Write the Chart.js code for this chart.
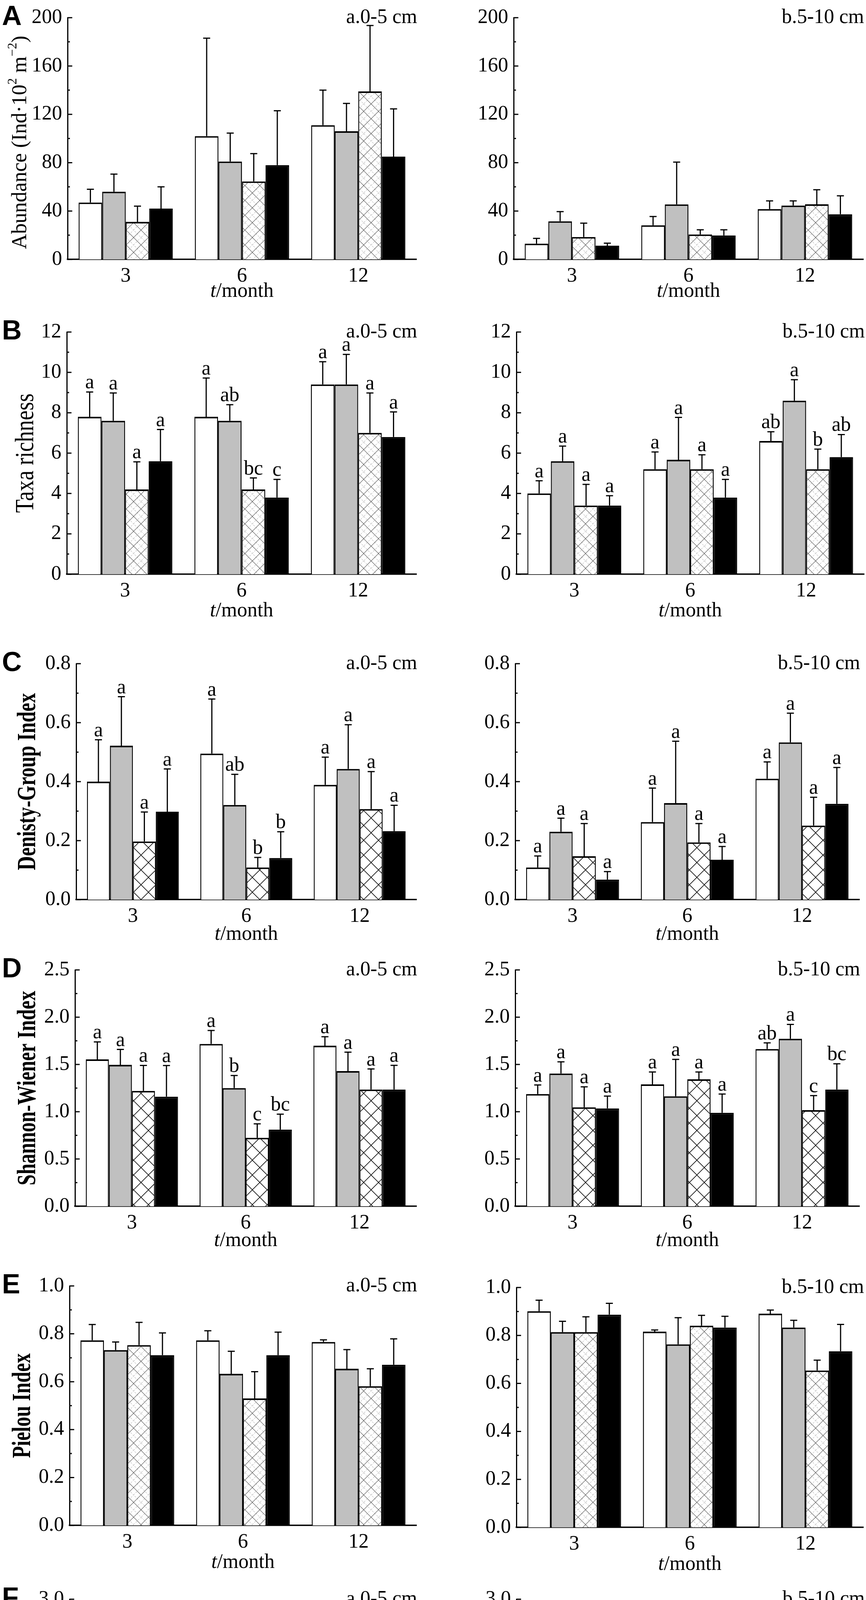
<!DOCTYPE html>
<html>
<head>
<meta charset="utf-8">
<script src="https://cdn.jsdelivr.net/npm/chart.js@4.4.1/dist/chart.umd.min.js"></script>
<style>
  body { margin: 0; background: #fff; }
  #page { position: relative; width: 2217px; height: 4930px; background: #fff; overflow: hidden; }
  #page canvas { position: absolute; }
  .legend { position: absolute; top: 4858px; left: 0; width: 2217px; height: 62px;
            font-family: 'Liberation Serif', serif; font-size: 54px; color: #000; }
  .legend .item { position: absolute; top: 0; height: 62px; display: flex; align-items: center; }
  .legend .box { width: 118px; height: 60px; border: 3px solid #000; box-sizing: border-box; margin-right: 14px; }
</style>
</head>
<body>
<div id="page">
  <div class="legend">
    <div class="item" style="left:671px"><div class="box" style="background:#fff"></div>N0</div>
    <div class="item" style="left:904px"><div class="box" style="background:#c0c0c0"></div>N1</div>
    <div class="item" style="left:1134px"><div class="box" style="border-color:#777;background-color:#fff;background-image:repeating-linear-gradient(45deg,#bbb 0 1px,transparent 1px 19px),repeating-linear-gradient(-45deg,#bbb 0 1px,transparent 1px 19px)"></div>N2</div>
    <div class="item" style="left:1367px"><div class="box" style="background:#000"></div>N3</div>
  </div>
</div>
<script>
// categories / series
const months = ['3', '6', '12'];
const treatments = ['N0', 'N1', 'N2', 'N3'];

// values are [month][treatment], errors are the upper error bar length
const abund05Mean = [[47, 56, 31, 42], [102, 81, 64.5, 78], [111, 106, 139, 85]];
const abund05Err = [[11, 14.5, 13, 18], [81, 23.5, 23, 45], [29, 23, 54.5, 39.5]];
const abund510Mean = [[13, 31.5, 18.5, 11.3], [28.2, 45.5, 20.6, 19.8], [41.6, 44.5, 45.6, 37.3]];
const abund510Err = [[4.4, 8, 11.5, 2.1], [7.3, 35, 3.9, 4.7], [6.8, 3.9, 12, 15.3]];

const rich05Mean = [[7.8, 7.6, 4.2, 5.6], [7.8, 7.6, 4.2, 3.8], [9.4, 9.4, 7.0, 6.8]];
const rich05Err = [[1.23, 1.38, 1.37, 1.57], [1.92, 0.8, 0.57, 0.9], [1.13, 1.49, 1.98, 1.24]];
const rich510Mean = [[4.0, 5.6, 3.4, 3.4], [5.2, 5.67, 5.2, 3.8], [6.6, 8.6, 5.2, 5.8]];
const rich510Err = [[0.63, 0.75, 1.05, 0.49], [0.86, 2.1, 0.72, 0.9], [0.46, 1.04, 1.0, 1.12]];
const rich05Sig = [['a', 'a', 'a', 'a'], ['a', 'ab', 'bc', 'c'], ['a', 'a', 'a', 'a']];
const rich510Sig = [['a', 'a', 'a', 'a'], ['a', 'a', 'a', 'a'], ['ab', 'a', 'b', 'ab']];

const dens05Mean = [[0.40, 0.522, 0.197, 0.298], [0.495, 0.321, 0.109, 0.141], [0.389, 0.443, 0.307, 0.232]];
const dens05Err = [[0.142, 0.166, 0.1, 0.145], [0.185, 0.104, 0.034, 0.089], [0.094, 0.15, 0.127, 0.088]];
const dens510Mean = [[0.109, 0.23, 0.147, 0.068], [0.263, 0.327, 0.194, 0.135], [0.41, 0.533, 0.251, 0.325]];
const dens510Err = [[0.039, 0.046, 0.111, 0.027], [0.115, 0.21, 0.064, 0.045], [0.057, 0.099, 0.096, 0.123]];
const dens05Sig = [['a', 'a', 'a', 'a'], ['a', 'ab', 'b', 'b'], ['a', 'a', 'a', 'a']];
const dens510Sig = [['a', 'a', 'a', 'a'], ['a', 'a', 'a', 'a'], ['a', 'a', 'a', 'a']];

const shan05Mean = [[1.554, 1.496, 1.22, 1.159], [1.717, 1.25, 0.724, 0.811], [1.698, 1.43, 1.235, 1.235]];
const shan05Err = [[0.185, 0.163, 0.27, 0.33], [0.142, 0.133, 0.148, 0.163], [0.095, 0.2, 0.217, 0.256]];
const shan510Mean = [[1.187, 1.404, 1.046, 1.035], [1.289, 1.163, 1.343, 0.989], [1.663, 1.772, 1.017, 1.235]];
const shan510Err = [[0.096, 0.124, 0.217, 0.13], [0.131, 0.391, 0.077, 0.198], [0.065, 0.152, 0.153, 0.272]];
const shan05Sig = [['a', 'a', 'a', 'a'], ['a', 'b', 'c', 'bc'], ['a', 'a', 'a', 'a']];
const shan510Sig = [['a', 'a', 'a', 'a'], ['a', 'a', 'a', 'a'], ['ab', 'a', 'c', 'bc']];

const piel05Mean = [[0.773, 0.732, 0.753, 0.711], [0.773, 0.633, 0.53, 0.711], [0.766, 0.654, 0.581, 0.671]];
const piel05Err = [[0.066, 0.034, 0.095, 0.093], [0.04, 0.094, 0.112, 0.096], [0.009, 0.08, 0.073, 0.108]];
const piel510Mean = [[0.901, 0.814, 0.814, 0.887], [0.816, 0.763, 0.841, 0.833], [0.891, 0.833, 0.654, 0.734]];
const piel510Err = [[0.046, 0.045, 0.064, 0.047], [0.007, 0.111, 0.043, 0.047], [0.015, 0.03, 0.043, 0.112]];

const marg05Mean = [[2.202, 2.031, 1.361, 1.451], [2.06, 1.813, 0.951, 0.925], [2.089, 2.045, 1.738, 1.636]];
const marg05Err = [[0.371, 0.281, 0.275, 0.417], [0.185, 0.122, 0.134, 0.279], [0.272, 0.282, 0.4, 0.261]];
const marg510Mean = [[1.625, 1.68, 1.384, 1.422], [1.529, 1.578, 1.761, 1.201], [1.825, 2.356, 1.332, 1.63]];
const marg510Err = [[0.142, 0.087, 0.339, 0.15], [0.197, 0.56, 0.218, 0.313], [0.203, 0.31, 0.304, 0.314]];
const marg05Sig = [['a', 'a', 'a', 'a'], ['a', 'a', 'b', 'b'], ['a', 'a', 'a', 'a']];
const marg510Sig = [['a', 'a', 'a', 'a'], ['a', 'a', 'a', 'a'], ['ab', 'a', 'b', 'ab']];

// tick labels
const abundTicks = ['0', '40', '80', '120', '160', '200'];
const richTicks = ['0', '2', '4', '6', '8', '10', '12'];
const densTicks = ['0.0', '0.2', '0.4', '0.6', '0.8'];
const shanTicks = ['0.0', '0.5', '1.0', '1.5', '2.0', '2.5'];
const pielTicks = ['0.0', '0.2', '0.4', '0.6', '0.8', '1.0'];
const margTicks = ['0.0', '0.5', '1.0', '1.5', '2.0', '2.5', '3.0'];

const depthLabels = ['a.0-5 cm', 'b.5-10 cm'];

const SERIF = '"Liberation Serif", "Times New Roman", serif';

// crosshatch for N2: dark lattice, optionally with a light lattice in between
function hatch(light) {
    const S = 38, h = S / 2;
    const c = document.createElement('canvas');
    c.width = S; c.height = S;
    const g = c.getContext('2d');
    g.fillStyle = '#fff';
    g.fillRect(0, 0, S, S);
    if (light) {
        g.strokeStyle = '#c4c4c4';
        g.lineWidth = 1.3;
        g.setLineDash([5, 3]);
        g.beginPath();
        g.moveTo(h, 0); g.lineTo(S, h); g.lineTo(h, S); g.lineTo(0, h); g.closePath();
        g.stroke();
        g.setLineDash([]);
    }
    g.strokeStyle = light ? '#555' : '#111';
    g.lineWidth = light ? 1.2 : 1.6;
    g.beginPath();
    g.moveTo(0, 0); g.lineTo(S, S);
    g.moveTo(S, 0); g.lineTo(0, S);
    g.stroke();
    return g.createPattern(c, 'repeat');
}
const hatchLight = hatch(true);
const hatchDark = hatch(false);

// text with italic / superscript parts, centred on x
function drawRich(ctx, parts, x, y, size, weight) {
    const fontOf = s => (s === 'i' ? 'italic ' : '') + (weight || 'normal') + ' ' +
        (s === 'sup' ? Math.round(size * 0.62) : size) + 'px ' + SERIF;
    let w = 0;
    parts.forEach(([t, s]) => { ctx.font = fontOf(s); w += ctx.measureText(t).width; });
    let cx = x - w / 2;
    ctx.textAlign = 'left';
    ctx.textBaseline = 'middle';
    parts.forEach(([t, s]) => {
        ctx.font = fontOf(s);
        ctx.fillText(t, cx, s === 'sup' ? y - size * 0.36 : y);
        cx += ctx.measureText(t).width;
    });
}

const decor = {
    id: 'decor',
    afterDatasetsDraw(chart) {
        const ctx = chart.ctx, y = chart.scales.y;
        ctx.save();
        ctx.strokeStyle = '#000';
        ctx.fillStyle = '#000';
        ctx.lineWidth = 3;
        ctx.font = '52px ' + SERIF;
        ctx.textAlign = 'center';
        ctx.textBaseline = 'alphabetic';
        chart.data.datasets.forEach((ds, i) => {
            chart.getDatasetMeta(i).data.forEach((bar, j) => {
                const top = y.getPixelForValue(ds.data[j] + ds.err[j]);
                ctx.beginPath();
                ctx.moveTo(bar.x, bar.y);
                ctx.lineTo(bar.x, top);
                ctx.moveTo(bar.x - 9, top);
                ctx.lineTo(bar.x + 9, top);
                ctx.stroke();
                if (ds.sig) ctx.fillText(ds.sig[j], bar.x, top - 9);
            });
        });
        ctx.restore();
    },
    afterDraw(chart, args, o) {
        const ctx = chart.ctx, a = chart.chartArea, y = chart.scales.y;
        ctx.save();
        ctx.strokeStyle = '#000';
        ctx.fillStyle = '#000';
        // inward major + minor ticks
        ctx.lineWidth = 3;
        const tv = y.ticks.map(t => t.value);
        ctx.beginPath();
        tv.forEach((v, k) => {
            const p = y.getPixelForValue(v);
            ctx.moveTo(a.left, p); ctx.lineTo(a.left + 12, p);
            if (k < tv.length - 1) {
                const m = y.getPixelForValue((v + tv[k + 1]) / 2);
                ctx.moveTo(a.left, m); ctx.lineTo(a.left + 6, m);
            }
        });
        ctx.stroke();

        // depth label
        ctx.font = '52px ' + SERIF;
        ctx.textAlign = 'right';
        ctx.textBaseline = 'middle';
        ctx.fillText(o.depth, a.right + 2, a.top);

        // x title
        drawRich(ctx, [['t', 'i'], ['/month', '']], (a.left + a.right) / 2, a.bottom + o.xTitleDy, 52);

        if (o.letter) {
            ctx.font = 'bold 70px "Liberation Sans", Arial, sans-serif';
            ctx.textAlign = 'left';
            ctx.textBaseline = 'middle';
            ctx.fillText(o.letter, 5, a.top);
        }
        if (o.title) {
            ctx.save();
            ctx.translate(o.titleX, (a.top + a.bottom) / 2 + o.titleDy);
            ctx.rotate(-Math.PI / 2);
            ctx.scale(1, o.titleStretch);
            drawRich(ctx, o.title, 0, 0, o.titleSize, o.titleWeight);
            ctx.restore();
        }
        ctx.restore();
    }
};

// panel rows: data refs + titles
const rows = [
    { letter: 'A', ticks: abundTicks, mean: [abund05Mean, abund510Mean], err: [abund05Err, abund510Err], sig: [null, null],
      title: [['Abundance (Ind·10', ''], ['2', 'sup'], [' m', ''], ['−2', 'sup'], [')', '']] },
    { letter: 'B', ticks: richTicks, mean: [rich05Mean, rich510Mean], err: [rich05Err, rich510Err], sig: [rich05Sig, rich510Sig],
      title: [['Taxa richness', '']] },
    { letter: 'C', ticks: densTicks, mean: [dens05Mean, dens510Mean], err: [dens05Err, dens510Err], sig: [dens05Sig, dens510Sig],
      title: [['Denisty-Group Index', '']] },
    { letter: 'D', ticks: shanTicks, mean: [shan05Mean, shan510Mean], err: [shan05Err, shan510Err], sig: [shan05Sig, shan510Sig],
      title: [['Shannon-Wiener Index', '']] },
    { letter: 'E', ticks: pielTicks, mean: [piel05Mean, piel510Mean], err: [piel05Err, piel510Err], sig: [null, null],
      title: [['Pielou Index', '']] },
    { letter: 'F', ticks: margTicks, mean: [marg05Mean, marg510Mean], err: [marg05Err, marg510Err], sig: [marg05Sig, marg510Sig],
      title: [['Margalef Index', '']] }
];

// layout (page pixels)
const rowLayout = [
    { top: 0,    plotTop: [44, 44],     plotBottom: [664, 664],   axisX: [173, 1315], axisEnd: [1066, 2210], titleX: 53, titleDy: 10, titleSize: 54, titleWeight: 'normal', titleStretch: 1.0, xTitleDy: 82, hatch: hatchLight },
    { top: 790,  plotTop: [850, 850],   plotBottom: [1470, 1470], axisX: [171, 1322], axisEnd: [1066, 2212], titleX: 67, titleDy: 0, titleSize: 56, titleWeight: 'normal', titleStretch: 1.2, xTitleDy: 94, hatch: hatchLight },
    { top: 1600, plotTop: [1699, 1699], plotBottom: [2303, 2303], axisX: [195, 1319], axisEnd: [1066, 2200], titleX: 73, titleDy: 0, titleSize: 50, titleWeight: 'bold', titleStretch: 1.35, xTitleDy: 89, hatch: hatchDark },
    { top: 2400, plotTop: [2483, 2483], plotBottom: [3088, 3088], axisX: [192, 1319], axisEnd: [1066, 2200], titleX: 73, titleDy: 0, titleSize: 50, titleWeight: 'bold', titleStretch: 1.35, xTitleDy: 88, hatch: hatchDark },
    { top: 3200, plotTop: [3292, 3296], plotBottom: [3905, 3910], axisX: [178, 1322], axisEnd: [1066, 2210], titleX: 60, titleDy: 0, titleSize: 50, titleWeight: 'bold', titleStretch: 1.35, xTitleDy: 95, hatch: hatchLight },
    { top: 4000, plotTop: [4094, 4094], plotBottom: [4708, 4708], axisX: [178, 1322], axisEnd: [1066, 2212], titleX: 58, titleDy: 0, titleSize: 50, titleWeight: 'bold', titleStretch: 1.35, xTitleDy: 93, hatch: hatchLight }
];

const page = document.getElementById('page');

function makePanel(r, side) {
    const row = rows[r], L = rowLayout[r];
    const cLeft = side === 0 ? 0 : 1100;
    const cWidth = side === 0 ? 1100 : 1117;
    const cHeight = L.plotBottom[side] - L.top + 140;
    const canvas = document.createElement('canvas');
    canvas.width = cWidth;
    canvas.height = cHeight;
    canvas.style.left = cLeft + 'px';
    canvas.style.top = L.top + 'px';
    canvas.style.width = cWidth + 'px';
    canvas.style.height = cHeight + 'px';
    page.appendChild(canvas);

    const ticks = row.ticks;
    const mean = row.mean[side], err = row.err[side], sig = row.sig[side];
    const font = { family: SERIF, size: 52 };
    const fills = ['#ffffff', '#c0c0c0', L.hatch, '#000000'];

    new Chart(canvas, {
        type: 'bar',
        data: {
            labels: months,
            datasets: treatments.map((t, k) => ({
                label: t,
                data: mean.map(m => m[k]),
                err: err.map(m => m[k]),
                sig: sig ? sig.map(m => m[k]) : null,
                backgroundColor: fills[k],
                borderColor: '#000',
                borderWidth: { top: 4, left: 2.5, right: 2.5, bottom: 0 },
                categoryPercentage: 0.81,
                barPercentage: 1.0
            }))
        },
        options: {
            responsive: false,
            animation: false,
            devicePixelRatio: 1,
            layout: {
                autoPadding: false,
                padding: { top: L.plotTop[side] - L.top, right: cLeft + cWidth - L.axisEnd[side], left: 0, bottom: 0 }
            },
            plugins: {
                legend: { display: false },
                tooltip: { enabled: false },
                decor: {
                    depth: depthLabels[side],
                    xTitleDy: L.xTitleDy,
                    letter: side === 0 ? row.letter : null,
                    title: side === 0 ? row.title : null,
                    titleX: L.titleX,
                    titleDy: L.titleDy,
                    titleSize: L.titleSize,
                    titleWeight: L.titleWeight,
                    titleStretch: L.titleStretch
                }
            },
            scales: {
                x: {
                    z: 1,
                    grid: { display: false, drawTicks: false },
                    border: { display: true, width: 3.5, color: '#000' },
                    ticks: { font: font, color: '#000', padding: 12 },
                    afterFit: s => { s.height = 140; }
                },
                y: {
                    min: parseFloat(ticks[0]),
                    max: parseFloat(ticks[ticks.length - 1]),
                    grid: { display: false, drawTicks: false },
                    border: { display: true, width: 3, color: '#000' },
                    ticks: {
                        stepSize: parseFloat(ticks[1]) - parseFloat(ticks[0]),
                        autoSkip: false,
                        font: font,
                        color: '#000',
                        padding: 14,
                        callback: (v, i) => ticks[i]
                    },
                    afterFit: s => { s.width = L.axisX[side] - cLeft; }
                }
            }
        },
        plugins: [decor]
    });
}

for (let r = 0; r < rows.length; r++) {
    makePanel(r, 0);
    makePanel(r, 1);
}
</script>
</body>
</html>
